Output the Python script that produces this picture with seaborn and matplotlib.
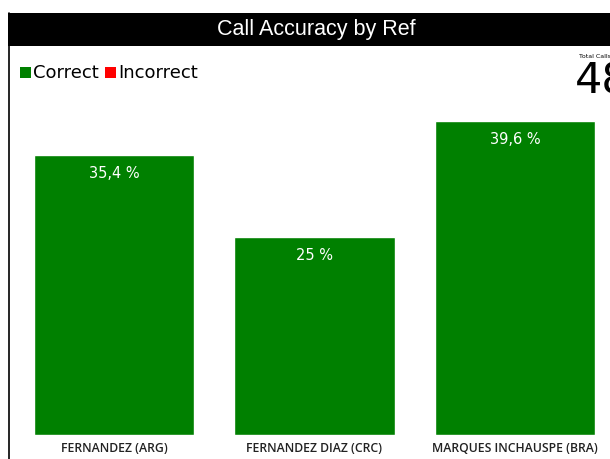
import matplotlib
matplotlib.use("Agg")
import matplotlib.pyplot as plt
import seaborn as sns
import pandas as pd
from matplotlib.patches import Rectangle
from matplotlib.lines import Line2D

refs = ["FERNANDEZ (ARG)", "FERNANDEZ DIAZ (CRC)", "MARQUES INCHAUSPE (BRA)"]
correct_pct = [35.4, 25.0, 39.6]
labels = ["35,4 %", "25 %", "39,6 %"]
title = "Call Accuracy by Ref"
legend_names = ["Correct", "Incorrect"]
legend_colors = ["#008000", "#FF0000"]
total_calls_label = "Total Calls"
total_calls = "48"

sns.set_theme(style="white")
plt.rcParams['font.family'] = ['DejaVu Sans']

W, H = 610, 459
fig = plt.figure(figsize=(W / 100, H / 100), dpi=100)

def fx(px):
    return px / W

def fy(py):
    return 1 - py / H

# axes: x from 9 to 610 px, y from 95 to 435 px
ax_left, ax_right, ax_top, ax_bot = 9, 610, 95, 435
ax = fig.add_axes([fx(ax_left), fy(ax_bot), fx(ax_right - ax_left), (ax_bot - ax_top) / H])

df = pd.DataFrame({"ref": refs, "pct": correct_pct})
sns.barplot(data=df, x="ref", y="pct", color=legend_colors[0], saturation=1, width=0.8, ax=ax)

px_per_unit = 200.5
ax.set_xlim((ax_left - 114) / px_per_unit, (ax_right - 114) / px_per_unit)
ax.set_ylim(0, (ax_bot - ax_top) / 7.92)
for s in ax.spines.values():
    s.set_visible(False)
ax.set_yticks([])
ax.set_xlabel("")
ax.set_ylabel("")
ax.tick_params(axis="x", length=0, pad=5)
for t in ax.get_xticklabels():
    t.set_fontsize(8.8)
    t.set_family(["Open Sans", "DejaVu Sans"])
    t.set_fontweight(600)
    t.set_color("#222222")

for i, (v, lab) in enumerate(zip(correct_pct, labels)):
    ax.annotate(lab, (i, v), xytext=(0, -8), textcoords="offset points",
                ha="center", va="top", color="white", fontsize=10.5)

# title bar
fig.patches.append(Rectangle((fx(8), fy(46)), 1 - fx(8), (46 - 13) / H,
                             transform=fig.transFigure, facecolor="black", edgecolor="none", zorder=0))
fig.text(fx(316), fy(30), title, color="white", fontsize=15.5, ha="center", va="center",
         family=["Liberation Sans", "DejaVu Sans"])
# left border
fig.lines.append(Line2D([fx(8.5), fx(8.5)], [fy(13), 0], transform=fig.transFigure, color="black", lw=1.2))

# legend
fig.patches.append(Rectangle((fx(20), fy(78)), fx(11), 11 / H, transform=fig.transFigure,
                             facecolor=legend_colors[0], edgecolor="none"))
fig.text(fx(33), fy(73), legend_names[0], fontsize=13, va="center", ha="left", color="black")
fig.patches.append(Rectangle((fx(105), fy(78)), fx(11), 11 / H, transform=fig.transFigure,
                             facecolor=legend_colors[1], edgecolor="none"))
fig.text(fx(118), fy(73), legend_names[1], fontsize=13, va="center", ha="left", color="black")

# KPI
fig.text(fx(579), fy(57), total_calls_label, fontsize=4.5, ha="left", va="center", color="black")
fig.text(fx(575), fy(82), total_calls, fontsize=31, ha="left", va="center", color="black")

fig.savefig("out.png", dpi=100)
